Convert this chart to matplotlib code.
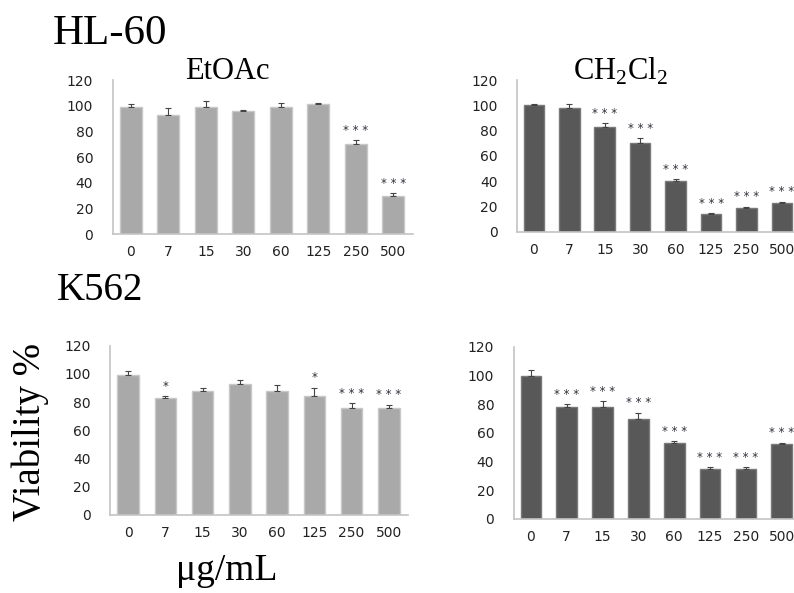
import numpy as np
import matplotlib
matplotlib.use("Agg")
import matplotlib.pyplot as plt

# concentrations (ug/mL)
doses = ["0", "7", "15", "30", "60", "125", "250", "500"]

# HL-60
hl_etoac = [99, 93, 99, 96, 99, 101, 70, 30]
hl_etoac_err = [2, 5, 5, 1, 3, 1, 3, 2]
hl_etoac_sig = ["", "", "", "", "", "", "***", "***"]

hl_ch2cl2 = [100, 98, 83, 70, 40, 14, 19, 23]
hl_ch2cl2_err = [1, 3, 3, 4, 2, 1, 1, 1]
hl_ch2cl2_sig = ["", "", "***", "***", "***", "***", "***", "***"]

# K562
k_etoac = [99, 83, 88, 93, 88, 84, 76, 76]
k_etoac_err = [3, 1, 2, 3, 4, 6, 3, 2]
k_etoac_sig = ["", "*", "", "", "", "*", "***", "***"]

k_ch2cl2 = [100, 78, 78, 70, 53, 35, 35, 52]
k_ch2cl2_err = [4, 2, 4, 4, 1, 1, 1, 1]
k_ch2cl2_sig = ["", "***", "***", "***", "***", "***", "***", "***"]

light = "#a9a9a9"
dark = "#585858"
serif = "Liberation Serif"
sans = "DejaVu Sans"

fig = plt.figure(figsize=(7.94, 5.93), dpi=100)


def panel(rect, vals, errs, sig, color, edge):
    ax = fig.add_axes(rect)
    x = np.arange(len(doses))
    ax.bar(x, vals, width=0.58, color=color, edgecolor=edge, linewidth=1.0, zorder=2)
    lower = np.zeros(len(errs))
    ax.errorbar(x, vals, yerr=[lower, errs], fmt="none", ecolor="#444444",
                elinewidth=0.8, capsize=2.5, capthick=0.8, zorder=3)
    for xi, v, e, s in zip(x, vals, errs, sig):
        if s:
            ax.text(xi, v + e + 2.5, " ".join(s), ha="center", va="bottom",
                    fontsize=8.5, color="#2e2e3a", family=sans)
    ax.set_xlim(-0.48, 7.52)
    ax.set_ylim(0, 120)
    ax.set_yticks(range(0, 121, 20))
    ax.set_xticks(x)
    ax.set_xticklabels(doses)
    ax.tick_params(length=0, labelsize=10, colors="#222222", pad=8)
    for lab in ax.get_xticklabels() + ax.get_yticklabels():
        lab.set_family(sans)
    ax.tick_params(axis="y", pad=14)
    for sp in ["top", "right"]:
        ax.spines[sp].set_visible(False)
    for sp in ["left", "bottom"]:
        ax.spines[sp].set_color("#c4c4c4")
        ax.spines[sp].set_linewidth(1.2)
    return ax


panel([0.142, 0.605, 0.378, 0.26], hl_etoac, hl_etoac_err, hl_etoac_sig, light, "#c8c8c8")
panel([0.651, 0.609, 0.357, 0.256], hl_ch2cl2, hl_ch2cl2_err, hl_ch2cl2_sig, dark, "#7a7a7a")
panel([0.139, 0.132, 0.375, 0.285], k_etoac, k_etoac_err, k_etoac_sig, light, "#c8c8c8")
panel([0.647, 0.125, 0.361, 0.29], k_ch2cl2, k_ch2cl2_err, k_ch2cl2_sig, dark, "#7a7a7a")

fig.text(0.066, 0.925, "HL-60", family=serif, fontsize=31, va="baseline")
fig.text(0.233, 0.866, "EtOAc", family=serif, fontsize=22, va="baseline")
fig.text(0.722, 0.866, r"CH$_\mathregular{2}$Cl$_\mathregular{2}$", family=serif,
         fontsize=22, va="baseline")
fig.text(0.072, 0.494, "K562", family=serif, fontsize=28, va="baseline")
fig.text(0.038, 0.272, "Viability %", family=serif, fontsize=28, rotation=90,
         ha="center", va="center")
fig.text(0.286, 0.022, "\u03bcg/mL", family=serif, fontsize=27, ha="center",
         va="baseline")

fig.savefig("out.png", dpi=100)
